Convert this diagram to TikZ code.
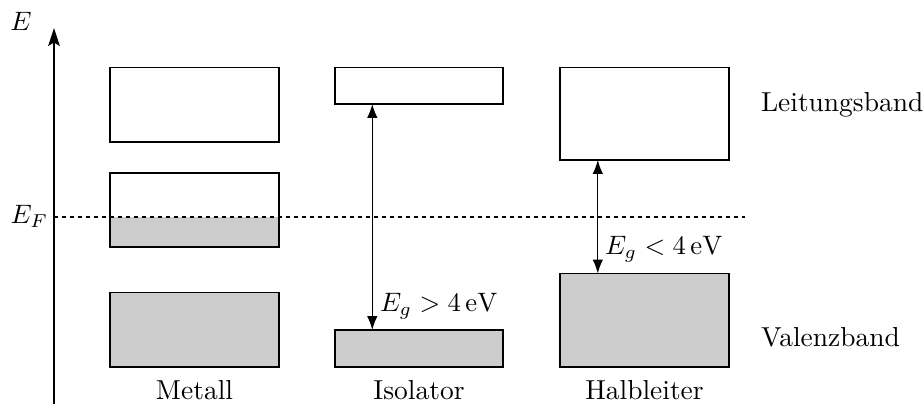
\documentclass[tikz,border=0pt]{standalone}
\usetikzlibrary{arrows.meta,fit}
\begin{document}
\begin{tikzpicture}[x=0.375pt,y=-0.375pt,
  font=\fontsize{10.3pt}{12.5pt}\selectfont,
  band/.style={draw,inner sep=0pt,outer sep=0pt,line width=0.45pt},
  filled/.style={band,fill=black!20},
  gaparrow/.style={{Latex[length=5.2pt,width=3.9pt]}-{Latex[length=5.2pt,width=3.9pt]},line width=0.45pt},
  lbl/.style={inner sep=0pt,outer sep=0pt}]
\useasboundingbox (0,0) rectangle (923,404);

% energy axis
\coordinate (axbot) at (54,404);
\coordinate (axtop) at (54,28);
\draw[-{Stealth[length=6.8pt,width=4.4pt,inset=1.4pt]},line width=0.45pt] (axbot) -- (axtop);
\node[lbl,anchor=base] (elab) at (21,31) {$E$};

% metal: conduction band, partly filled band, valence band
\fill[black!20] (110,217) rectangle (279,247);
\node[band,fit={(110,67.5)(279,142)}] (mC) {};
\node[band,fit={(110,173)(279,247)}] (mM) {};
\node[filled,fit={(110,292.5)(279,367)}] (mV) {};

% Fermi level
\coordinate (fl) at (54,217);
\coordinate (fr) at (745,217);
\draw[dash pattern=on 1.6pt off 1.4pt,line width=0.45pt] (fl) -- (fr);
\node[lbl,anchor=base east] (eflab) at (48,224) {$E_F$};
\draw[band,fill=none] (mM.south west) rectangle (mM.north east);

% insulator
\node[band,fit={(335,67.5)(503,104)}] (iC) {};
\node[filled,fit={(335,330)(503,367)}] (iV) {};
\coordinate (ia) at (372.3,0);
\draw[gaparrow] (ia |- iC.south) -- (ia |- iV.north);
\node[lbl,anchor=base west] (iglab) at (380,311.5) {$E_g > 4\,\mathrm{eV}$};

% semiconductor
\node[band,fit={(560,67.5)(729,160)}] (hC) {};
\node[filled,fit={(560,273.5)(729,367)}] (hV) {};
\coordinate (ha) at (597.8,0);
\draw[gaparrow] (ha |- hC.south) -- (ha |- hV.north);
\node[lbl,anchor=base west] (hglab) at (605,255) {$E_g < 4\,\mathrm{eV}$};

% column and band labels
\node[lbl,anchor=base] (tm) at (194.5,399.5) {Metall};
\node[lbl,anchor=base] (ti) at (419,399.5) {Isolator};
\node[lbl,anchor=base] (th) at (644.5,399.5) {Halbleiter};
\node[lbl,anchor=base west] (tl) at (761,111.5) {Leitungsband};
\node[lbl,anchor=base west] (tv) at (761,346.5) {Valenzband};
\end{tikzpicture}
\end{document}
